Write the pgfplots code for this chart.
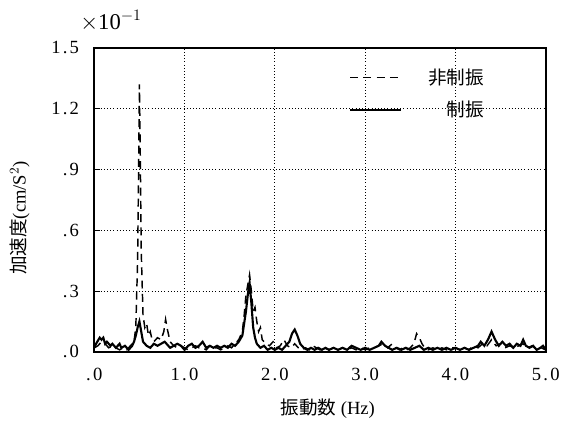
\documentclass[border=0pt]{standalone}
\usepackage{fontspec}
\setmainfont{Liberation Serif}
\newfontfamily\jp{Noto Sans CJK JP}
\usepackage{pgfplots}
\pgfplotsset{compat=1.18}
\begin{document}
\begin{tikzpicture}
\begin{axis}[
  scale only axis, width=340pt, height=229pt,
  xmin=0, xmax=5, ymin=0, ymax=1.5,
  xtick={0,1,2,3,4,5}, xticklabels={.0,1.0,2.0,3.0,4.0,5.0},
  ytick={0,0.3,0.6,0.9,1.2,1.5}, yticklabels={.0,.3,.6,.9,1.2,1.5},
  /pgf/number format/assume math mode=true,
  tick label style={font=\fontsize{14}{16}\selectfont\addfontfeature{LetterSpace=12}},
  grid=major, major grid style={black, dotted, line width=0.6pt},
  axis line style={black, line width=1.2pt},
  tick style={black, line width=0.6pt}, major tick length=4pt,
  tick align=inside, xtick pos=bottom, ytick pos=left,
  xticklabel style={yshift=-9pt}, yticklabel style={xshift=-8pt},
  xlabel={{\jp 振動数}\ (Hz)}, ylabel={{\jp 加速度}(cm/S$^{2}$)},
  label style={font=\fontsize{14}{16}\selectfont},
  xlabel style={at={(axis description cs:0.517,-0.187)}, anchor=center},
  ylabel style={at={(axis description cs:-0.165,0.44)}, anchor=center},
  legend style={at={(0.555,0.95)}, anchor=north west, draw=none, fill=none,
    font=\jp\fontsize{14}{16}\selectfont, cells={anchor=east}, row sep=7pt,
    nodes={inner xsep=20pt}},
  legend image code/.code={\draw[#1] (0pt,0pt) -- (38pt,0pt);},
  clip=true,
]
\addplot[black, line width=1.1pt, dash pattern=on 6pt off 4pt] coordinates {
(0.00,0.02)(0.04,0.03)(0.08,0.05)(0.12,0.04)(0.16,0.02)(0.20,0.03)(0.24,0.02)(0.28,0.01)(0.32,0.02)(0.36,0.01)(0.40,0.03)(0.44,0.05)(0.46,0.12)(0.48,0.45)(0.49,0.85)(0.50,1.32)(0.51,0.95)(0.52,0.50)(0.54,0.18)(0.56,0.12)(0.58,0.14)(0.60,0.08)(0.62,0.10)(0.64,0.06)(0.66,0.05)(0.70,0.07)(0.74,0.06)(0.77,0.10)(0.79,0.16)(0.81,0.11)(0.84,0.05)(0.88,0.03)(0.92,0.02)(0.96,0.03)(1.00,0.02)(1.04,0.01)(1.08,0.02)(1.12,0.03)(1.16,0.02)(1.20,0.02)(1.24,0.01)(1.28,0.03)(1.32,0.02)(1.36,0.02)(1.40,0.01)(1.44,0.02)(1.48,0.03)(1.52,0.02)(1.56,0.04)(1.60,0.06)(1.64,0.10)(1.66,0.18)(1.68,0.28)(1.70,0.33)(1.72,0.38)(1.74,0.30)(1.76,0.20)(1.78,0.22)(1.80,0.15)(1.82,0.10)(1.84,0.12)(1.86,0.06)(1.90,0.04)(1.94,0.03)(1.98,0.05)(2.02,0.02)(2.06,0.03)(2.10,0.06)(2.14,0.03)(2.18,0.02)(2.22,0.04)(2.26,0.02)(2.30,0.01)(2.34,0.02)(2.38,0.01)(2.42,0.03)(2.46,0.02)(2.50,0.01)(2.55,0.02)(2.60,0.01)(2.65,0.02)(2.70,0.01)(2.75,0.02)(2.80,0.01)(2.85,0.02)(2.90,0.01)(2.95,0.02)(3.00,0.01)(3.05,0.02)(3.10,0.02)(3.15,0.03)(3.20,0.04)(3.25,0.02)(3.30,0.04)(3.34,0.02)(3.38,0.01)(3.42,0.02)(3.46,0.01)(3.50,0.02)(3.54,0.04)(3.57,0.09)(3.60,0.07)(3.63,0.04)(3.66,0.02)(3.70,0.01)(3.75,0.02)(3.80,0.01)(3.85,0.02)(3.90,0.01)(3.95,0.02)(4.00,0.02)(4.05,0.01)(4.10,0.02)(4.15,0.01)(4.20,0.03)(4.25,0.02)(4.30,0.04)(4.35,0.03)(4.40,0.06)(4.45,0.03)(4.50,0.04)(4.55,0.02)(4.60,0.03)(4.65,0.02)(4.70,0.03)(4.75,0.04)(4.80,0.02)(4.85,0.03)(4.90,0.01)(4.95,0.02)(5.00,0.01)
};
\addlegendentry{非制振}
\addplot[black, line width=1.6pt] coordinates {
(0.00,0.02)(0.02,0.04)(0.06,0.07)(0.08,0.06)(0.10,0.07)(0.12,0.04)(0.14,0.05)(0.18,0.03)(0.20,0.04)(0.24,0.02)(0.28,0.04)(0.30,0.02)(0.34,0.03)(0.38,0.01)(0.42,0.03)(0.44,0.05)(0.46,0.08)(0.48,0.12)(0.50,0.15)(0.52,0.10)(0.54,0.05)(0.58,0.03)(0.62,0.02)(0.66,0.04)(0.70,0.03)(0.74,0.04)(0.78,0.05)(0.80,0.04)(0.84,0.02)(0.88,0.03)(0.92,0.04)(0.96,0.03)(1.00,0.01)(1.04,0.03)(1.08,0.04)(1.12,0.02)(1.16,0.03)(1.20,0.05)(1.24,0.02)(1.28,0.03)(1.32,0.02)(1.36,0.03)(1.40,0.02)(1.44,0.03)(1.48,0.02)(1.52,0.04)(1.56,0.03)(1.60,0.05)(1.64,0.08)(1.66,0.14)(1.68,0.20)(1.70,0.28)(1.72,0.34)(1.74,0.24)(1.76,0.12)(1.78,0.07)(1.80,0.04)(1.84,0.02)(1.88,0.03)(1.92,0.01)(1.96,0.02)(2.00,0.01)(2.04,0.02)(2.08,0.01)(2.12,0.03)(2.16,0.05)(2.19,0.09)(2.22,0.11)(2.25,0.08)(2.28,0.04)(2.32,0.02)(2.36,0.01)(2.40,0.02)(2.44,0.01)(2.48,0.02)(2.52,0.01)(2.56,0.02)(2.60,0.01)(2.65,0.02)(2.70,0.01)(2.75,0.02)(2.80,0.01)(2.85,0.03)(2.90,0.02)(2.95,0.01)(3.00,0.02)(3.05,0.01)(3.10,0.02)(3.15,0.03)(3.18,0.05)(3.22,0.03)(3.26,0.02)(3.30,0.01)(3.35,0.02)(3.40,0.01)(3.45,0.02)(3.50,0.01)(3.55,0.02)(3.60,0.03)(3.65,0.01)(3.70,0.02)(3.75,0.01)(3.80,0.02)(3.85,0.01)(3.90,0.02)(3.95,0.01)(4.00,0.02)(4.05,0.01)(4.10,0.02)(4.15,0.01)(4.20,0.02)(4.25,0.03)(4.28,0.05)(4.32,0.03)(4.36,0.06)(4.40,0.10)(4.44,0.06)(4.48,0.03)(4.52,0.05)(4.56,0.03)(4.60,0.04)(4.64,0.02)(4.68,0.04)(4.72,0.03)(4.75,0.06)(4.78,0.03)(4.82,0.02)(4.86,0.03)(4.90,0.01)(4.94,0.02)(4.97,0.03)(5.00,0.01)
};
\addlegendentry{制振}
\end{axis}
\node[anchor=south west, font=\fontsize{17}{19}\selectfont] at ([xshift=-14pt,yshift=9pt]current axis.north west) {$\times$10$^{-1}$};
\path ([shift={(-71pt,-58pt)}]current axis.south west);
\path ([shift={(12pt,36pt)}]current axis.north east);
\end{tikzpicture}
\end{document}
